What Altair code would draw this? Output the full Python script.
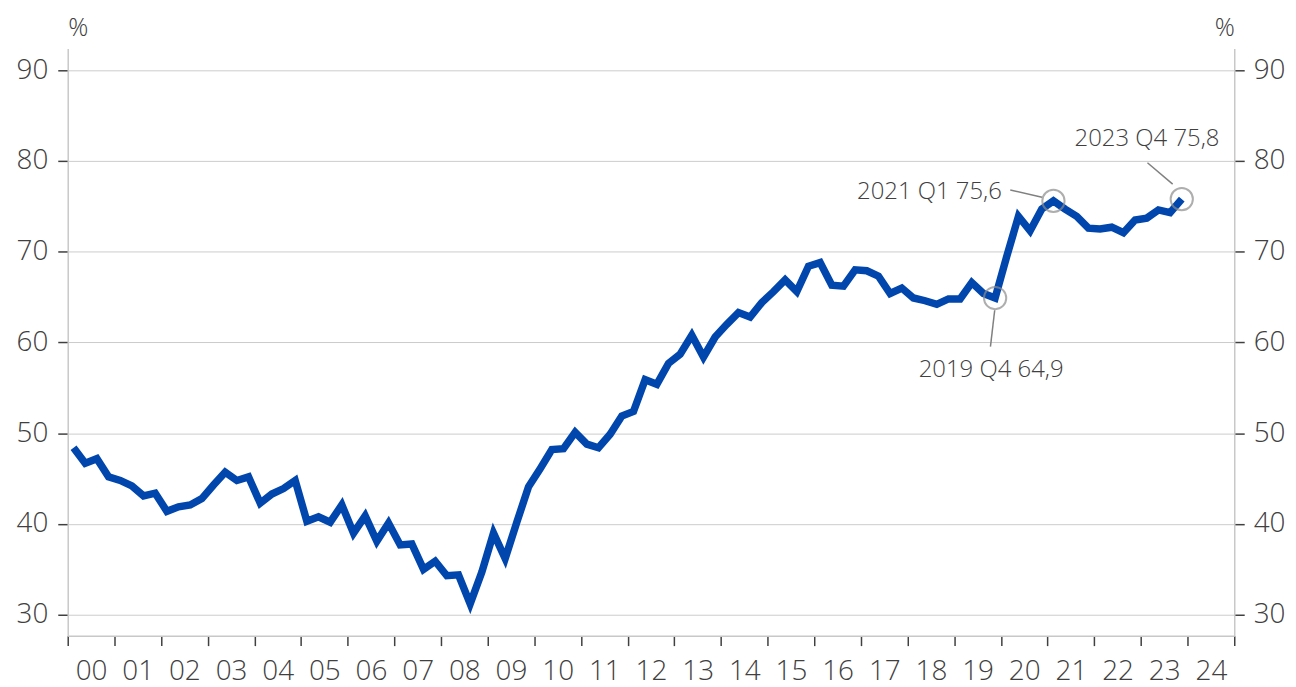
import altair as alt
import pandas as pd

# ---- data (quarterly, 2000 Q1 .. 2023 Q4) ----
years = list(range(2000, 2024))
quarters = [1, 2, 3, 4]
values = [
    48.4, 46.7, 47.2, 45.2,   # 2000
    44.8, 44.2, 43.1, 43.4,   # 2001
    41.4, 41.9, 42.1, 42.8,   # 2002
    44.3, 45.7, 44.8, 45.2,   # 2003
    42.3, 43.3, 43.9, 44.8,   # 2004
    40.3, 40.8, 40.2, 42.1,   # 2005
    39.0, 40.9, 38.1, 40.1,   # 2006
    37.7, 37.8, 35.0, 35.9,   # 2007
    34.3, 34.4, 31.2, 34.7,   # 2008
    39.0, 36.2, 40.2, 44.1,   # 2009
    46.1, 48.2, 48.3, 50.1,   # 2010
    48.8, 48.4, 49.9, 51.9,   # 2011
    52.4, 55.9, 55.4, 57.7,   # 2012
    58.7, 60.8, 58.4, 60.6,   # 2013
    62.0, 63.3, 62.8, 64.4,   # 2014
    65.6, 66.9, 65.6, 68.4,   # 2015
    68.8, 66.3, 66.2, 68.0,   # 2016
    67.9, 67.3, 65.4, 66.0,   # 2017
    64.9, 64.6, 64.2, 64.8,   # 2018
    64.8, 66.6, 65.4, 64.9,   # 2019
    69.5, 73.9, 72.3, 74.7,   # 2020
    75.6, 74.7, 73.9, 72.6,   # 2021
    72.5, 72.7, 72.1, 73.5,   # 2022
    73.7, 74.6, 74.3, 75.8,   # 2023
]
y_ticks = [30, 40, 50, 60, 70, 80, 90]
x_ticks = list(range(2000, 2026))

# highlighted quarters
hl_year = [2019, 2021, 2023]
hl_quarter = [4, 1, 4]
hl_value = [64.9, 75.6, 75.8]
hl_label = ["2019 Q4 64,9", "2021 Q1 75,6", "2023 Q4 75,8"]
# label anchor and leader line ends (data units)
lab_t = [2019.79, 2020.02, 2023.13]
lab_v = [57.0, 76.55, 82.4]
lead_t1 = [2019.866, 2020.20, 2023.14]
lead_v1 = [63.55, 76.8, 79.8]
lead_t2 = [2019.775, 2020.88, 2023.68]
lead_v2 = [59.55, 76.0, 77.45]

rows = []
i = 0
for yr in years:
    for q in quarters:
        rows.append({"t": yr + (q - 0.5) / 4, "v": values[i]})
        i += 1
df = pd.DataFrame(rows)

hl = pd.DataFrame({
    "t": [y + (q - 0.5) / 4 for y, q in zip(hl_year, hl_quarter)],
    "v": hl_value,
    "label": hl_label,
    "lt": lab_t, "lv": lab_v,
    "t1": lead_t1, "v1": lead_v1, "t2": lead_t2, "v2": lead_v2,
})

FONT = "Open Sans"
TXT = "#404040"
Y_DOM = [27.7, 92.4]
X_DOM = [2000, 2025]

xs = alt.Scale(domain=X_DOM, nice=False, zero=False)
ys = alt.Scale(domain=Y_DOM, nice=False, zero=False)

x_axis = alt.Axis(
    values=x_ticks, title=None, grid=False,
    labelExpr="datum.value >= 2025 ? '' : slice('0' + (datum.value - 2000), -2)",
    labelOffset=23.44, labelFlush=False, labelOverlap=False, labelBound=False,
    tickSize=10, labelPadding=12,
)
left_axis = alt.Axis(
    values=y_ticks, title="%", titleAngle=0, titleAlign="left",
    titleBaseline="middle", titleX=0, titleY=-21, grid=True,
    titleFontSize=25, titleFont=FONT, titleFontWeight=300, titleColor=TXT,
    tickSize=10, labelPadding=10,
)
right_axis = alt.Axis(
    values=y_ticks, title="%", titleAngle=0, titleAlign="right",
    titleBaseline="middle", titleX=0, titleY=-21, grid=False,
    titleFontSize=25, titleFont=FONT, titleFontWeight=300, titleColor=TXT,
    orient="right", tickSize=10, labelPadding=9,
)

X = alt.X("t:Q", scale=xs, axis=x_axis)

line = alt.Chart(df).mark_line(color="#0046AD", strokeWidth=7.5).encode(
    x=X,
    y=alt.Y("v:Q", scale=ys, axis=left_axis),
)
right = alt.Chart(df).mark_line(strokeOpacity=0).encode(
    x=X,
    y=alt.Y("v:Q", scale=ys, axis=right_axis),
)
circles = alt.Chart(hl).mark_point(
    shape="circle", filled=False, color="#8C8C8C", strokeWidth=2, size=500
).encode(
    x=X,
    y=alt.Y("v:Q", scale=ys, axis=None),
)
leaders = alt.Chart(hl).mark_rule(color="#808080", strokeWidth=1.5).encode(
    x=alt.X("t1:Q", scale=xs, axis=x_axis),
    y=alt.Y("v1:Q", scale=ys, axis=None),
    x2="t2:Q", y2="v2:Q",
)
text_c = alt.Chart(hl).transform_filter("datum.label != '2021 Q1 75,6'").mark_text(
    font=FONT, fontSize=24, fontWeight=300, color=TXT, align="center", baseline="middle"
).encode(
    x=alt.X("lt:Q", scale=xs, axis=x_axis),
    y=alt.Y("lv:Q", scale=ys, axis=None),
    text="label:N",
)
text_r = alt.Chart(hl).transform_filter("datum.label == '2021 Q1 75,6'").mark_text(
    font=FONT, fontSize=24, fontWeight=300, color=TXT, align="right", baseline="middle"
).encode(
    x=alt.X("lt:Q", scale=xs, axis=x_axis),
    y=alt.Y("lv:Q", scale=ys, axis=None),
    text="label:N",
)

chart = alt.layer(line, right, circles, leaders, text_c, text_r).resolve_scale(
    y="independent"
).properties(
    width=1172, height=590,
    autosize=alt.AutoSizeParams(type="none"),
    padding={"left": 60, "top": 39, "right": 54, "bottom": 52},
).configure_view(stroke=None).configure_axis(
    domainColor="#C8C8C8", domainWidth=1.5, tickColor="#404040", tickWidth=1.5,
    gridColor="#CCCCCC", gridWidth=1,
    labelFont=FONT, labelFontSize=28, labelFontWeight=300, labelColor=TXT,
)

chart.save("out.html", embed_options={"renderer": "svg", "actions": False})
